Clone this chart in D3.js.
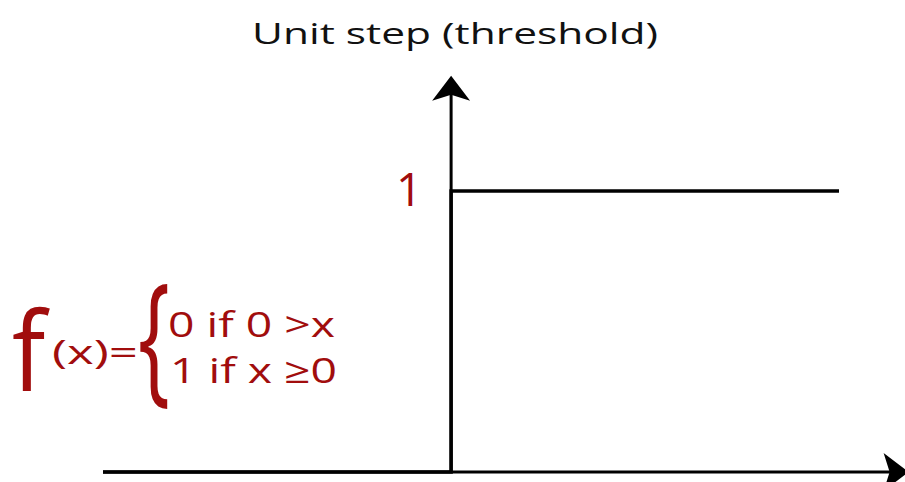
<!DOCTYPE html>
<html>
<head>
<meta charset="utf-8">
<script src="https://cdn.jsdelivr.net/npm/d3@7"></script>
<style>
  html, body { margin: 0; padding: 0; background: #fff; }
  svg { display: block; font-family: "Open Sans", sans-serif; }
</style>
</head>
<body>
<svg id="chart" width="905" height="482"></svg>
<script>
// data
const title = "Unit step (threshold)";
const stepPoints = [[-3.5, 0], [0, 1], [3.9, 1]];   // x, f(x)
const xAxisExtent = [-3.5, 4.6];
const yAxisExtent = [0, 1.41];
const yTickValues = [1];
const formulaLines = ["0 if 0 >x", "1 if x \u22650"];

const red = "#a10d0d";
const svg = d3.select("#chart");

const x = d3.scaleLinear().domain([-3.5, 3.9]).range([103, 839]);
const y = d3.scaleLinear().domain([0, 1]).range([472, 191]);

// title
svg.append("text")
  .attr("x", 252).attr("y", 44)
  .attr("font-size", 30)
  .attr("textLength", 406)
  .attr("lengthAdjust", "spacingAndGlyphs")
  .attr("fill", "#111")
  .text(title);

// arrow head (pointing right, tip at origin)
function arrow(g, tx, ty, rot) {
  g.append("path")
    .attr("d", "M0,0 L-25,-19 L-19,0 L-25,19 Z")
    .attr("transform", `translate(${tx},${ty}) rotate(${rot})`)
    .attr("fill", "#000");
}

const axes = svg.append("g");
// x axis
axes.append("line")
  .attr("x1", x(xAxisExtent[0])).attr("x2", x(xAxisExtent[1]) - 10)
  .attr("y1", y(0)).attr("y2", y(0))
  .attr("stroke", "#000").attr("stroke-width", 3);
arrow(axes, x(xAxisExtent[1]), y(0), 0);

// y axis
axes.append("line")
  .attr("x1", x(0)).attr("x2", x(0))
  .attr("y1", y(0)).attr("y2", y(yAxisExtent[1]) + 10)
  .attr("stroke", "#000").attr("stroke-width", 3);
arrow(axes, x(0), y(yAxisExtent[1]), -90);

// step line
const line = d3.line()
  .x(d => x(d[0]))
  .y(d => y(d[1]))
  .curve(d3.curveStepAfter);

svg.append("path")
  .datum(stepPoints)
  .attr("d", line)
  .attr("fill", "none")
  .attr("stroke", "#000")
  .attr("stroke-width", 3.5);

// tick label "1"
svg.selectAll(".ytick")
  .data(yTickValues)
  .join("text")
  .attr("class", "ytick")
  .attr("x", x(0) - 42)
  .attr("y", d => y(d) + 15)
  .attr("text-anchor", "middle")
  .attr("font-size", 46)
  .attr("fill", red)
  .text(d => d);

// formula
const fg = svg.append("g").attr("fill", red);
fg.append("text")
  .attr("transform", "translate(12,391) scale(0.9,1)")
  .attr("font-size", 110)
  .text("f");
fg.append("text")
  .attr("x", 52).attr("y", 364)
  .attr("font-size", 32)
  .attr("textLength", 86)
  .attr("lengthAdjust", "spacingAndGlyphs")
  .text("(x)=");
fg.append("text")
  .attr("transform", "translate(138,386) scale(0.6,1)")
  .attr("font-size", 142)
  .text("{");
fg.selectAll(".case")
  .data(formulaLines)
  .join("text")
  .attr("class", "case")
  .attr("x", (d, i) => 168 + i * 2)
  .attr("y", (d, i) => 337 + i * 46)
  .attr("font-size", 35)
  .attr("textLength", 167)
  .attr("lengthAdjust", "spacingAndGlyphs")
  .text(d => d);
</script>
</body>
</html>
